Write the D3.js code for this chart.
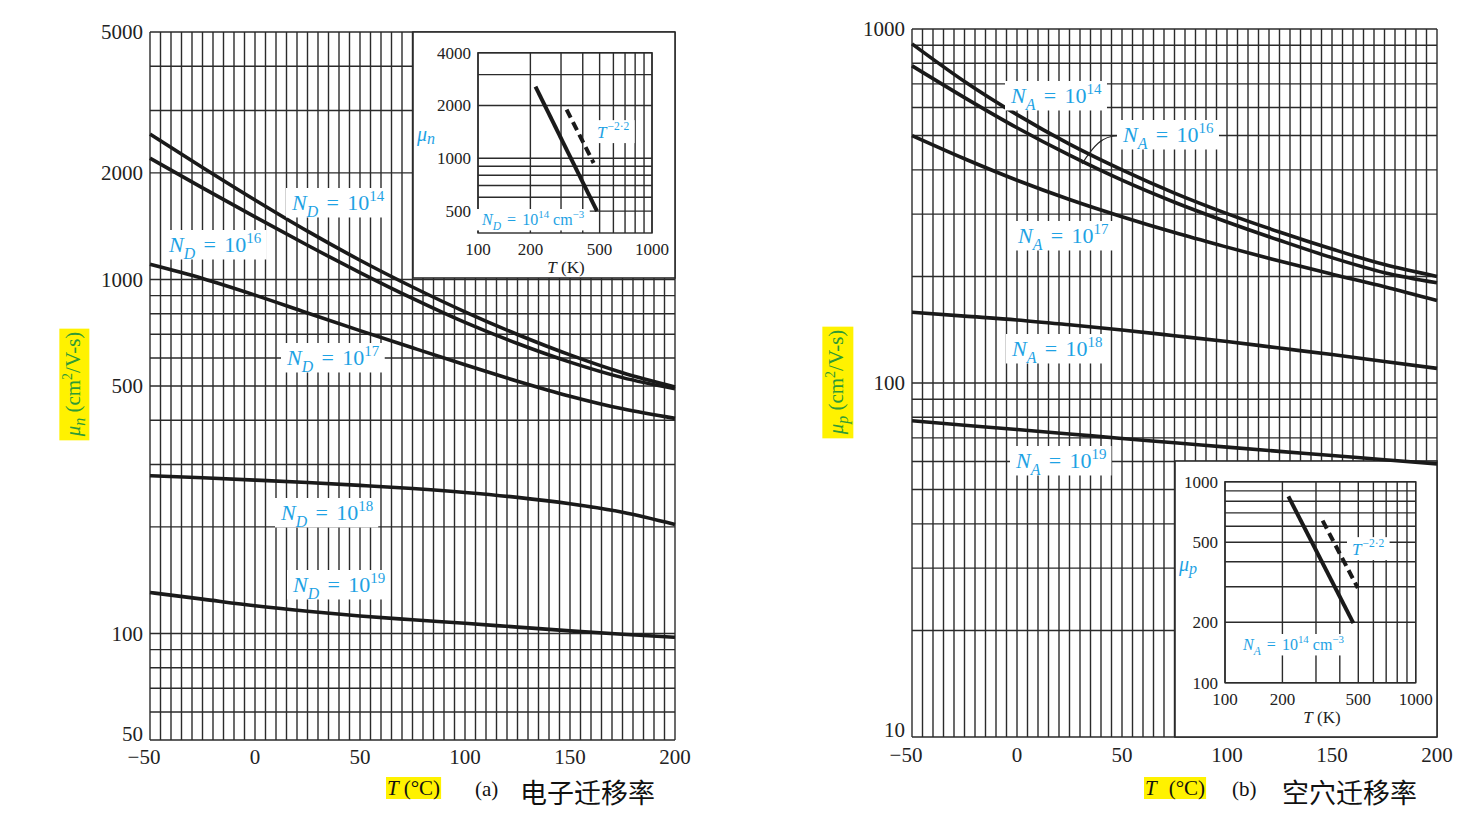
<!DOCTYPE html>
<html><head><meta charset="utf-8">
<script src="https://cdn.jsdelivr.net/npm/d3@7"></script>
<style>body{margin:0;background:#fff;} svg{display:block;}</style>
</head><body>
<svg id="c" width="1477" height="814"></svg>
<script>
// ---------------- data ----------------
const tempC = [-50,-25,0,25,50,75,100,125,150,175,200];
const electronND14 = [2573,2072,1677,1369,1133,952,810,699,612,545,497];
const electronND16 = [2201,1814,1502,1249,1046,884,756,659,584,528,491];
const electronND17 = [1103,1006,903,804,717,641,574,516,468,431,405];
const electronND18 = [279,275.2,271.1,266.8,261.9,256.6,250.2,242.3,232.4,220,203.2];
const electronND19 = [130.5,125,119.7,115.5,112,109.3,106.8,104.2,101.7,99.5,97.5];
const holeNA14 = [908,711,573,473,400,344,301,267,239,216,200];
const holeNA16 = [787,640,526,440,374,324,285,253,226,205,192];
const holeNA17 = [500,430,374,330,295,266,242,221,203,187,171];
const holeNA18 = [158.4,154.5,150.7,146,141.1,136,131,125.5,120.3,115,110];
const holeNA19 = [78.2,76,73.9,71.8,69.7,67.8,65.9,64.1,62.4,60.7,59.1];
const electronExps = ["14","16","17","18","19"];
const holeExps = ["14","16","17","18","19"];
const tempTickLabels = [-50,0,50,100,150,200];
const electronTickLabels = [50,100,500,1000,2000,5000];
const holeTickLabels = [10,100,1000];
const insetTempTicks = [100,200,500,1000];
const insetElecTickLabels = [500,1000,2000,4000];
const insetHoleTickLabels = [100,200,500,1000];
const insetElecSolidT = [214,483], insetElecSolidMu = [2566,500];
const insetElecDashT = [323,462], insetElecDashMu = [1893,940];
const insetHoleSolidT = [215,471], insetHoleSolidMu = [845,198];
const insetHoleDashT = [325,497], insetHoleDashMu = [640,296];

// ---------------- style ----------------
const serif = '"Liberation Serif","Times New Roman",serif';
const cjk = '"Noto Sans CJK SC","Noto Sans CJK JP",sans-serif';
const blue = '#1ea2e4';
const green = '#2f9b36';
const yellow = '#fff200';
const gridCol = '#2b2b2b';
const curveCol = '#1a1a1a';

const svg = d3.select('#c');

function boxBehind(g, textSel, y, size, padX, up, down) {
  const b = textSel.node().getBBox();
  g.insert('rect', ':first-child')
    .attr('x', b.x - padX).attr('y', y - up * size)
    .attr('width', b.width + 2 * padX).attr('height', (up + down) * size)
    .attr('fill', '#fff');
}

function concLabel(parent, x, y, letter, exp, size, tail) {
  const g = parent.append('g');
  const t = g.append('text').attr('x', x).attr('y', y)
    .attr('font-family', serif).attr('font-size', size).attr('fill', blue);
  t.append('tspan').attr('font-style','italic').text('N');
  t.append('tspan').attr('font-style','italic').attr('font-size', size*0.72).attr('dy', size*0.3).text(letter);
  t.append('tspan').attr('dy', -size*0.3).attr('dx', size*0.38).text('=');
  t.append('tspan').attr('dx', size*0.38).text('10');
  t.append('tspan').attr('font-size', size*0.68).attr('dy', -size*0.42).text(exp);
  if (tail) {
    t.append('tspan').attr('dy', size*0.42).attr('dx', size*0.25).text('cm');
    t.append('tspan').attr('font-size', size*0.68).attr('dy', -size*0.42).text('\u22123');
  }
  boxBehind(g, t, y, size, 5, 1.0, 0.34);
  return g;
}

function powLabel(parent, x, y, size) {
  const g = parent.append('g');
  const t = g.append('text').attr('x', x).attr('y', y)
    .attr('font-family', serif).attr('font-size', size).attr('fill', blue);
  t.append('tspan').attr('font-style','italic').text('T');
  t.append('tspan').attr('font-size', size*0.68).attr('dy', -size*0.45).attr('dx', 1).text('\u22122\u00b72');
  boxBehind(g, t, y, size, 5, 1.05, 0.3);
}

function muLabel(parent, x, y, sub, size) {
  const t = parent.append('text').attr('x', x).attr('y', y)
    .attr('font-family', serif).attr('font-size', size).attr('fill', blue).attr('font-style','italic');
  t.append('tspan').text('\u03bc');
  t.append('tspan').attr('font-size', size*0.8).attr('dy', size*0.15).text(sub);
}

function fmtT(v){ return v < 0 ? '\u2212' + Math.abs(v) : String(v); }

function drawChart(cfg) {
  const g = svg.append('g');
  const x = d3.scaleLinear().domain([-50,200]).range([cfg.x0, cfg.x1]);
  const y = d3.scaleLog().domain(cfg.yDomain).range([cfg.y1, cfg.y0]);

  // grid
  const grid = g.append('g').attr('stroke', gridCol).attr('stroke-width', 1.4);
  grid.selectAll('line.h').data(y.ticks()).join('line')
    .attr('x1', cfg.x0).attr('x2', cfg.x1).attr('y1', d => y(d)).attr('y2', d => y(d));
  grid.selectAll('line.v').data(d3.range(-50, 201, 5)).join('line')
    .attr('x1', d => x(d)).attr('x2', d => x(d)).attr('y1', cfg.y0).attr('y2', cfg.y1);

  // tick labels
  const ymin = cfg.yDomain[0];
  g.selectAll('text.yt').data(cfg.yTicks).join('text')
    .attr('x', cfg.x0 - 7).attr('y', d => y(d) - (d === ymin ? cfg.bottomShift : 0)).attr('dy', '0.35em')
    .attr('text-anchor', 'end').attr('font-family', serif).attr('font-size', 21).attr('fill', '#222')
    .text(d => d);
  g.selectAll('text.xt').data(tempTickLabels).join('text')
    .attr('x', d => x(d) + (d < 0 ? -6 : 0)).attr('y', cfg.y1 + cfg.xLabelDy)
    .attr('text-anchor', 'middle').attr('font-family', serif).attr('font-size', 21).attr('fill', '#222')
    .text(fmtT);

  // inset
  const ins = cfg.inset;
  const ig = g.append('g');
  ig.append('rect').attr('x', ins.bx0).attr('y', ins.by0)
    .attr('width', ins.bx1 - ins.bx0).attr('height', ins.by1 - ins.by0)
    .attr('fill', '#fff').attr('stroke', gridCol).attr('stroke-width', 1.6);
  const ix = d3.scaleLog().domain([100,1000]).range([ins.px0, ins.px1]);
  const iy = d3.scaleLog().domain(ins.yDomain).range([ins.py1, ins.py0]);
  const igr = ig.append('g').attr('stroke', gridCol).attr('stroke-width', 1.4);
  igr.selectAll('line.h').data(iy.ticks().filter(d => d >= ins.minGrid)).join('line')
    .attr('x1', ins.px0).attr('x2', ins.px1).attr('y1', d => iy(d)).attr('y2', d => iy(d));
  igr.selectAll('line.v').data(ix.ticks()).join('line')
    .attr('x1', d => ix(d)).attr('x2', d => ix(d)).attr('y1', ins.py0).attr('y2', ins.py1);
  igr.append('rect').attr('x', ins.px0).attr('y', ins.py0)
    .attr('width', ins.px1 - ins.px0).attr('height', ins.py1 - ins.py0).attr('fill', 'none');
  ig.selectAll('text.iy').data(ins.yTicks).join('text')
    .attr('x', ins.px0 - 7).attr('y', d => iy(d)).attr('dy', '0.35em').attr('text-anchor', 'end')
    .attr('font-family', serif).attr('font-size', 17).attr('fill', '#222').text(d => d);
  ig.selectAll('text.ix').data(insetTempTicks).join('text')
    .attr('x', d => ix(d)).attr('y', ins.py1 + 22).attr('text-anchor', 'middle')
    .attr('font-family', serif).attr('font-size', 17).attr('fill', '#222').text(d => d);
  const tk = ig.append('text').attr('x', ins.tkx).attr('y', ins.py1 + 40).attr('text-anchor', 'middle')
    .attr('font-family', serif).attr('font-size', 17).attr('fill', '#222');
  tk.append('tspan').attr('font-style', 'italic').text('T');
  tk.append('tspan').text(' (K)');
  concLabel(ig, ins.ndx, ins.ndy, ins.letter, '14', 16, true);
  powLabel(ig, ins.tpx, ins.tpy, 17);
  muLabel(ig, ins.mux, ins.muy, ins.muSub, 20);
  const iline = d3.line().x(d => ix(d[0])).y(d => iy(d[1]));
  ig.append('path').attr('d', iline(d3.zip(ins.solidT, ins.solidMu)))
    .attr('stroke', curveCol).attr('stroke-width', 4).attr('fill', 'none');
  ig.append('path').attr('d', iline(d3.zip(ins.dashT, ins.dashMu)))
    .attr('stroke', curveCol).attr('stroke-width', 4).attr('fill', 'none').attr('stroke-dasharray', '9,5');

  // curves
  const line = d3.line().x(d => x(d[0])).y(d => y(d[1])).curve(d3.curveMonotoneX);
  g.append('g').selectAll('path').data(cfg.series).join('path')
    .attr('d', s => line(d3.zip(tempC, s)))
    .attr('stroke', curveCol).attr('stroke-width', 3.6).attr('fill', 'none')
    .attr('stroke-linecap', 'butt');

  // leader
  if (cfg.leader) {
    g.append('path').attr('d', cfg.leader).attr('stroke', '#222').attr('stroke-width', 1.1).attr('fill', 'none');
  }
  // curve labels
  cfg.labels.forEach((p, i) => concLabel(g, p[0], p[1], cfg.letter, cfg.exps[i], 22, false));

  // y axis title
  const ty = g.append('g').attr('transform', `translate(${cfg.ytx},${cfg.yty}) rotate(-90)`);
  const tt = ty.append('text').attr('x', 0).attr('y', 0).attr('text-anchor', 'middle').attr('dy', '0.35em')
    .attr('font-family', serif).attr('font-size', 21).attr('fill', green);
  tt.append('tspan').attr('font-style', 'italic').text('\u03bc');
  tt.append('tspan').attr('font-style', 'italic').attr('font-size', 16).attr('dy', 5).text(cfg.muSub);
  tt.append('tspan').attr('dy', -5).text(' (cm');
  tt.append('tspan').attr('font-size', 14).attr('dy', -8).text('2');
  tt.append('tspan').attr('dy', 8).text('/V-s)');
  const b = tt.node().getBBox();
  ty.insert('rect', ':first-child').attr('x', b.x - 3).attr('y', b.y - 1)
    .attr('width', b.width + 6).attr('height', b.height + 2).attr('fill', yellow);

  // caption
  const cg = g.append('g');
  const ct = cg.append('text').attr('x', cfg.capx).attr('y', 795)
    .attr('font-family', serif).attr('font-size', 21).attr('fill', '#111');
  ct.append('tspan').attr('font-style', 'italic').text('T');
  ct.append('tspan').attr('dx', cfg.capGap).text('(\u00b0C)');
  const cb = ct.node().getBBox();
  cg.insert('rect', ':first-child').attr('x', cb.x - 1).attr('y', cb.y + 1)
    .attr('width', cb.width + 2).attr('height', cb.height - 2).attr('fill', yellow);
  g.append('text').attr('x', cfg.partx).attr('y', 796).attr('font-family', serif)
    .attr('font-size', 21).attr('fill', '#111').text(cfg.part);
  g.append('text').attr('x', cfg.titlex).attr('y', 803).attr('font-family', cjk)
    .attr('font-size', 27).attr('fill', '#111').text(cfg.title);
}

drawChart({
  x0: 150, x1: 675, y0: 32, y1: 740, yDomain: [50, 5000], yTicks: electronTickLabels,
  bottomShift: 6, xLabelDy: 24,
  series: [electronND14, electronND16, electronND17, electronND18, electronND19],
  letter: 'D', exps: electronExps,
  labels: [[292,210],[169,252],[287,365],[281,520],[293,592]],
  muSub: 'n', ytx: 73, yty: 384,
  capx: 387, capGap: 5, partx: 475, titlex: 520, part: '(a)', title: '\u7535\u5b50\u8fc1\u79fb\u7387',
  inset: { bx0: 413, bx1: 675, by0: 32, by1: 278, px0: 478, px1: 652, py0: 52.7, py1: 233,
    yDomain: [375, 4000], minGrid: 500, yTicks: insetElecTickLabels, letter: 'D',
    ndx: 482, ndy: 225, tpx: 597, tpy: 138, mux: 417, muy: 141, muSub: 'n', tkx: 566,
    solidT: insetElecSolidT, solidMu: insetElecSolidMu, dashT: insetElecDashT, dashMu: insetElecDashMu }
});

drawChart({
  x0: 912, x1: 1437, y0: 29, y1: 737, yDomain: [10, 1000], yTicks: holeTickLabels,
  bottomShift: 7, xLabelDy: 25,
  series: [holeNA14, holeNA16, holeNA17, holeNA18, holeNA19],
  letter: 'A', exps: holeExps,
  labels: [[1011,103],[1123,142],[1018,243],[1012,356],[1016,468]],
  leader: 'M1121,136 C1102,134 1092,148 1082,164',
  muSub: 'p', ytx: 836, yty: 382,
  capx: 1145, capGap: 12, partx: 1232, titlex: 1282, part: '(b)', title: '\u7a7a\u7a74\u8fc1\u79fb\u7387',
  inset: { bx0: 1175, bx1: 1437, by0: 461, by1: 737, px0: 1225, px1: 1415.7, py0: 481.7, py1: 682.7,
    yDomain: [100, 1000], minGrid: 100, yTicks: insetHoleTickLabels, letter: 'A',
    ndx: 1243, ndy: 650, tpx: 1352, tpy: 555, mux: 1179, muy: 571, muSub: 'p', tkx: 1322,
    solidT: insetHoleSolidT, solidMu: insetHoleSolidMu, dashT: insetHoleDashT, dashMu: insetHoleDashMu }
});
</script>
</body></html>
